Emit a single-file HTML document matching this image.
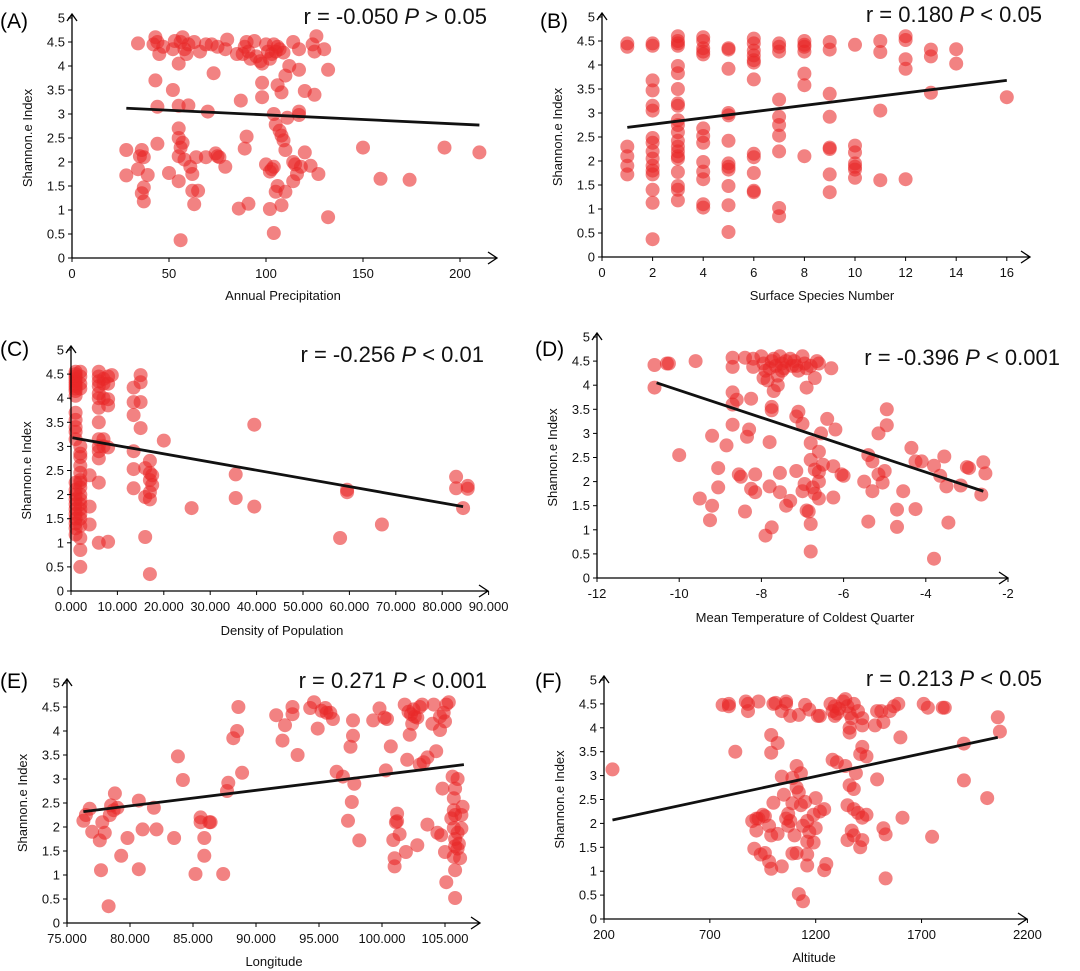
<!DOCTYPE html>
<html><head><meta charset="utf-8">
<style>
html,body{margin:0;padding:0;background:#fff;}
svg{display:block;font-family:"Liberation Sans",Arial,sans-serif;}
</style></head>
<body>
<svg id="fig" width="1080" height="971" viewBox="0 0 1080 971" xmlns="http://www.w3.org/2000/svg"></svg>
<script>
// ---- Data (Shannon index vs predictors) ----
const xA=[34,42,43,44,45,47,52,53,56,57,58,59,60,63,66,69,72,75,79,80,85,88,89,90,91,92,94,95,97,98,100,101,102,103,104,105,106,107,109,114,117,124,125,126,130,55,43,52,73,98,98,87,106,108,110,112,117,120,125,132,44,55,60,70,104,111,117,117,105,107,108,109,110,55,55,57,56,90,89,44,28,36,37,35,55,58,61,64,69,74,75,76,79,100,103,104,102,114,115,120,118,123,116,114,127,28,34,39,50,55,62,36,37,37,62,65,63,86,91,102,108,106,105,110,132,104,56,150,159,174,192,210];
const yA=[4.47,4.45,4.6,4.5,4.25,4.4,4.35,4.52,4.5,4.6,4.35,4.25,4.45,4.5,4.3,4.45,4.45,4.4,4.35,4.55,4.25,4.25,4.4,4.5,4.3,4.15,4.52,4.2,4.1,4.05,4.45,4.3,4.15,4.25,4.45,4.3,4.4,4.35,4.28,4.5,4.35,4.45,4.3,4.62,4.35,4.05,3.7,3.5,3.85,3.65,3.35,3.28,3.6,3.45,3.8,4.0,3.92,3.48,3.4,3.92,3.15,3.17,3.18,3.05,3.0,2.92,3.05,2.98,2.78,2.65,2.55,2.45,2.25,2.7,2.5,2.4,2.3,2.53,2.28,2.38,2.25,2.25,2.1,2.12,2.12,2.05,1.9,2.1,2.1,2.18,2.12,2.1,1.9,1.95,1.85,1.9,1.8,2.0,1.95,2.2,1.9,1.92,1.75,1.6,1.75,1.72,1.85,1.73,1.77,1.6,1.75,1.35,1.47,1.18,1.4,1.4,1.12,1.03,1.13,1.02,1.1,1.5,1.38,1.38,0.85,0.52,0.37,2.3,1.65,1.63,2.3,2.2];
const fitA=[[28,3.12],[210,2.77]];

const xB=[1,1,1,1,1,1, 2,2,2,2,2,2,2,2,2,2,2,2,2,2,2,2, 3,3,3,3,3,3,3,3,3,3,3,3,3,3,3,3,3,3,3,3,3, 4,4,4,4,4,4,4,4,4,4,4,4,4, 5,5,5,5,5,5,5,5,5,5,5,5, 6,6,6,6,6,6,6,6,6,6,6,6, 7,7,7,7,7,7,7,7,7,7, 8,8,8,8,8,8,8, 9,9,9,9,9,9,9,9, 10,10,10,10,10,10,10, 11,11,11,11, 12,12,12,12,12, 13,13,13, 14,14, 16];
const yB=[4.45,4.38,2.3,2.1,1.9,1.72, 4.45,4.4,3.68,3.47,3.15,3.05,2.48,2.38,2.2,2.05,1.9,1.8,1.72,1.4,1.13,0.37, 4.6,4.5,4.45,4.4,3.98,3.83,3.5,3.2,3.15,2.85,2.75,2.6,2.42,2.3,2.2,2.1,2.05,1.77,1.48,1.4,1.18, 4.58,4.5,4.35,4.28,4.22,2.68,2.52,2.38,1.98,1.78,1.62,1.1,1.03, 4.35,4.32,3.92,3.0,2.95,2.42,1.95,1.88,1.82,1.48,1.08,0.52, 4.55,4.45,4.3,4.2,4.1,4.05,3.7,2.15,2.08,1.75,1.38,1.35, 4.45,4.38,4.28,3.28,2.92,2.75,2.53,2.2,1.02,0.85, 4.5,4.42,4.38,4.28,3.82,3.58,2.1, 4.48,4.32,3.4,2.92,2.28,2.25,1.72,1.35, 4.42,2.32,2.18,1.95,1.88,1.82,1.65, 4.5,4.27,3.05,1.6, 4.6,4.52,4.12,3.92,1.62, 4.32,4.18,3.42, 4.33,4.03, 3.33];
const fitB=[[1,2.7],[16,3.68]];

const xC=[1,1,1,1,1,1,1,1,1,1,1,1,1,1,1,1,1,1,1,1,1,1,1,1,1,1, 2,2,2,2,2,2,2,2,2,2,2,2,2,2,2,2,2,2,2,2,2,2, 4,4,4, 6,6,6,6,6,6,6,6,6,6,6,6,6,6, 7,7,7,7,7, 8,8,8,8,8,8, 8.8, 13.5,13.5,13.5,13.5,13.5,13.5, 15,15,15,15, 16,16,16, 17,17,17,17,17,17, 17.5,17.5, 20,26,35.5,35.5,39.5,39.5,58,59.5,59.5,67,83,83,84.5,85.5,85.5];
const yC=[4.55,4.5,4.45,4.4,4.35,4.3,4.25,4.2,4.15,4.05,3.7,3.55,3.4,3.3,3.15,2.25,2.1,2.0,1.9,1.8,1.7,1.6,1.5,1.4,1.3,1.17, 4.55,4.45,4.3,4.2,3.0,2.85,2.78,2.6,2.45,2.3,2.25,2.15,2.0,1.9,1.8,1.7,1.6,1.5,1.35,1.1,0.85,0.5, 2.4,1.75,1.38, 4.55,4.45,4.35,4.25,4.1,4.0,3.8,3.5,3.15,3.0,2.9,2.75,2.25,1.0, 4.4,4.3,4.0,3.15,3.0, 4.45,4.3,3.98,3.85,2.98,1.02, 4.48, 4.22,3.92,3.65,2.9,2.53,2.13, 4.48,4.33,3.92,3.38, 2.55,1.95,1.12, 2.7,2.45,2.3,2.05,1.9,0.35, 2.4,2.2, 3.12,1.72,2.42,1.93,3.45,1.75,1.1,2.1,2.05,1.38,2.37,2.13,1.72,2.18,2.12];
const fitC=[[0.3,3.18],[84.5,1.75]];

const xD=[-10.6,-10.3,-10.25,-9.6,-8.7,-8.7,-8.4,-8.2,-8.2,-8.0,-7.95,-7.9,-7.95,-7.85,-7.8,-7.75,-7.7,-7.65,-7.6,-7.55,-7.5,-7.45,-7.4,-7.3,-7.2,-7.15,-7.1,-7.0,-6.95,-6.9,-6.8,-6.7,-6.65,-6.6,-6.3,-7.6,-7.7,-6.9,-7.5,-7.25,-10.6,-8.7,-8.6,-8.7,-8.25,-7.75,-7.75,-7.1,-7.15,-7.0,-8.7,-8.3,-8.35,-9.2,-8.85,-7.8,-6.4,-6.2,-6.55,-6.8,-6.6,-6.8,-6.5,-6.7,-6.6,-6.25,-6.05,-6.0,-10.0,-9.05,-8.55,-8.5,-8.15,-7.55,-7.15,-9.05,-8.25,-8.15,-7.8,-7.55,-7.0,-6.95,-6.75,-6.6,-6.7,-6.6,-6.25,-7.3,-7.4,-9.5,-9.2,-9.25,-8.4,-6.9,-6.85,-6.8,-7.75,-7.9,-6.8,-4.95,-4.95,-5.15,-4.35,-5.4,-5.3,-4.25,-4.1,-3.8,-3.55,-3.65,-3.5,-3.15,-3.0,-2.95,-2.6,-2.55,-2.65,-5.5,-5.15,-5.05,-5.0,-5.3,-4.55,-4.7,-4.25,-5.4,-4.7,-3.45,-3.8];
const yD=[4.42,4.45,4.45,4.5,4.57,4.38,4.57,4.55,4.38,4.6,4.45,4.3,4.15,4.1,4.35,4.5,4.55,4.4,4.2,4.6,4.45,4.35,4.5,4.55,4.5,4.4,4.3,4.6,4.45,4.35,4.4,4.15,4.5,4.45,4.35,4.0,3.88,3.95,4.3,4.4,3.95,3.85,3.7,3.6,3.72,3.55,3.48,3.45,3.35,3.2,3.18,3.08,2.93,2.95,2.75,2.82,3.3,3.08,3.0,2.8,2.62,2.45,2.35,2.25,2.2,2.32,2.15,2.12,2.55,2.28,2.15,2.1,2.15,2.18,2.22,1.88,1.85,1.78,1.9,1.78,1.8,1.95,1.88,2.0,1.75,1.65,1.67,1.6,1.5,1.65,1.5,1.2,1.38,1.4,1.38,1.12,1.05,0.88,0.55,3.5,3.17,3.0,2.7,2.55,2.42,2.42,2.42,2.33,2.52,2.12,1.9,1.92,2.3,2.28,2.4,2.17,1.73,2.0,2.15,1.98,2.22,1.8,1.8,1.42,1.43,1.17,1.06,1.15,0.4];
const fitD=[[-10.55,4.05],[-2.6,1.8]];

const xE=[76.3,76.5,76.8,77.0,77.6,77.8,78.0,77.7,78.3,78.5,78.4,78.7,78.8,79.0,79.3,79.8,80.7,80.7,81.0,81.9,82.1,83.5,83.8,84.2,85.2,85.6,85.6,85.9,85.9,86.3,86.4,87.4,87.7,87.8,88.2,88.5,88.6,88.9,91.6,92.1,92.3,92.9,92.9,93.3,94.3,94.6,94.9,95.2,95.5,95.6,95.9,96.1,96.4,96.9,97.3,97.5,97.6,97.7,97.7,97.8,98.2,99.3,99.8,100.2,100.3,100.4,100.7,100.9,101.0,101.0,101.1,101.2,101.2,101.4,101.9,101.8,102.0,102.1,102.3,102.2,102.5,102.4,102.8,102.6,102.8,103.0,103.0,103.2,103.3,103.6,103.6,104.0,104.1,104.3,104.4,104.6,104.7,104.6,104.9,104.8,105.0,105.1,105.0,105.1,105.3,105.5,105.6,105.7,105.7,105.8,105.8,105.7,105.8,105.8,105.7,105.8,105.8,106.0,106.0,106.1,106.2,106.3,106.4,106.3,106.0];
const yE=[2.13,2.25,2.38,1.9,1.72,2.1,1.88,1.1,0.35,2.45,2.25,2.35,2.7,2.4,1.4,1.77,2.55,1.12,1.95,2.4,1.95,1.77,3.47,2.98,1.02,2.2,2.1,1.77,1.4,2.1,2.1,1.02,2.75,2.92,3.85,4.0,4.5,3.13,4.33,3.8,4.12,4.5,4.35,3.5,4.48,4.6,4.05,4.42,4.48,4.38,4.38,4.25,3.15,3.05,2.13,3.67,2.52,4.22,3.9,2.9,1.72,4.22,4.47,4.28,3.18,4.25,3.68,1.73,1.35,1.18,2.1,2.28,2.12,1.85,1.48,4.55,3.4,4.4,4.35,3.92,4.45,4.15,4.28,4.3,1.62,4.5,3.3,4.55,3.35,3.45,2.05,4.15,4.55,3.58,1.88,4.02,1.83,4.3,4.38,2.8,4.2,4.55,1.48,0.85,4.6,2.18,3.05,2.6,2.35,2.8,2.25,1.98,1.75,1.6,1.38,1.1,0.52,3.0,1.88,1.65,1.35,2.25,2.42,1.97,1.55];
const fitE=[[76.3,2.32],[106.5,3.3]];

const xF=[240,760,790,790,820,870,880,880,930,1000,1010,1060,1060,1040,1080,1120,1150,1170,1210,1220,1270,1280,1290,1290,1300,1310,1330,1340,1350,1360,1370,1380,1400,1420,1420,1480,1490,1510,1520,1550,1570,1590,1710,1730,1800,1810,1360,1360,2060,2070,990,1020,990,1600,1900,1420,1410,1440,1280,1300,1340,1390,1110,1130,1040,1090,1490,1900,2010,1110,1120,1050,1360,1380,1200,1000,1090,1130,1150,1350,1240,1220,1380,1400,1440,1420,1610,930,950,960,900,920,1070,1060,1080,1190,1160,1140,980,1020,990,920,1070,1100,1170,1200,1160,1190,1370,1380,1420,1350,1410,1520,1530,1750,910,940,960,980,990,1040,1090,1110,1160,1160,1250,1240,1120,1140,1530];
const yF=[3.13,4.48,4.5,4.45,3.5,4.55,4.5,4.35,4.55,4.5,4.52,4.55,4.5,4.35,4.25,4.27,4.48,4.38,4.25,4.25,4.5,4.35,4.25,4.45,4.3,4.4,4.55,4.6,4.45,4.3,4.2,4.5,4.35,4.2,4.05,4.05,4.35,4.35,4.12,4.35,4.45,4.5,4.5,4.42,4.42,4.42,4.0,3.9,4.22,3.92,3.85,3.68,3.48,3.8,3.67,3.6,3.45,3.4,3.33,3.28,3.2,3.05,3.2,3.05,2.98,2.95,2.92,2.9,2.53,2.75,2.65,2.6,2.8,2.72,2.53,2.43,2.42,2.38,2.45,2.38,2.3,2.25,2.3,2.22,2.18,2.12,2.12,2.1,2.18,2.15,2.05,2.1,2.2,2.1,2.05,2.18,2.05,1.95,1.95,1.78,1.75,1.85,1.95,1.75,1.82,1.9,1.62,1.6,1.85,1.75,1.65,1.65,1.5,1.9,1.77,1.72,1.47,1.35,1.38,1.2,1.05,1.1,1.37,1.38,1.35,1.12,1.15,1.02,0.52,0.37,0.85];
const fitF=[[240,2.07],[2060,3.8]];

// ---- Layout configs (positions only) ----
const panels=[
 {id:'a',tag:'(A)',tagX:0,tagY:28,ox:72,oy:258,ys:48,xmin:0,xpx:1.94,ticks:[0,50,100,150,200],dec:0,arrowX:497,stat:['r = -0.050 ','P',' > 0.05'],statX:487,statY:24,xl:'Annual Precipitation',xlX:283,xlY:300,xs:xA,yv:yA,fit:fitA},
 {id:'b',tag:'(B)',tagX:540,tagY:28,ox:602,oy:257,ys:48,xmin:0,xpx:25.3,ticks:[0,2,4,6,8,10,12,14,16],dec:0,arrowX:1030,stat:['r = 0.180 ','P',' < 0.05'],statX:1042,statY:22,xl:'Surface Species Number',xlX:822,xlY:300,xs:xB,yv:yB,fit:fitB},
 {id:'c',tag:'(C)',tagX:0,tagY:356,ox:71,oy:591,ys:48.2,xmin:0,xpx:4.64,ticks:[0,10,20,30,40,50,60,70,80,90],dec:3,arrowX:488,stat:['r = -0.256 ','P',' < 0.01'],statX:484,statY:362,xl:'Density of Population',xlX:282,xlY:635,xs:xC,yv:yC,fit:fitC},
 {id:'d',tag:'(D)',tagX:535,tagY:356,ox:597,oy:578,ys:48.2,xmin:-12,xpx:41.1,ticks:[-12,-10,-8,-6,-4,-2],dec:0,arrowX:1008,stat:['r = -0.396 ','P',' < 0.001'],statX:1060,statY:365,xl:'Mean Temperature  of Coldest  Quarter',xlX:805,xlY:622,xs:xD,yv:yD,fit:fitD},
 {id:'e',tag:'(E)',tagX:0,tagY:688,ox:67,oy:923,ys:48,xmin:75,xpx:12.6,ticks:[75,80,85,90,95,100,105],dec:3,arrowX:480,stat:['r = 0.271 ','P',' < 0.001'],statX:487,statY:688,xl:'Longitude',xlX:274,xlY:966,xs:xE,yv:yE,fit:fitE},
 {id:'f',tag:'(F)',tagX:535,tagY:688,ox:604,oy:919,ys:47.8,xmin:200,xpx:0.2117,ticks:[200,700,1200,1700,2200],dec:0,arrowX:1027,stat:['r = 0.213 ','P',' < 0.05'],statX:1042,statY:686,xl:'Altitude',xlX:814,xlY:962,xs:xF,yv:yF,fit:fitF}
];
const NS='http://www.w3.org/2000/svg';
const svg=document.getElementById('fig');
function mk(tag,attrs,parent,text){const e=document.createElementNS(NS,tag);for(const k in attrs)e.setAttribute(k,attrs[k]);if(text!==undefined)e.textContent=text;parent.appendChild(e);return e;}
const yTicks=[0,0.5,1,1.5,2,2.5,3,3.5,4,4.5,5];
panels.forEach(p=>{
  const X=v=>p.ox+(v-p.xmin)*p.xpx;
  const Y=v=>p.oy-v*p.ys;
  const g=mk('g',{},svg);
  
  
  const tg=mk('text',{x:p.tagX,y:p.tagY,'font-size':21,fill:'#000'},g,p.tag);
  
  
  // points
  const pg=mk('g',{},g);
  
  
  p.xs.forEach((xv,i)=>{
    const c=mk('circle',{cx:X(xv).toFixed(1),cy:Y(p.yv[i]).toFixed(1),r:7,fill:'rgb(232,40,40)','fill-opacity':0.58},pg);
    
    
  });
  // axes
  const ya=mk('path',{d:`M${p.ox},${p.oy}V${Y(5)-4}M${p.ox-5},${Y(5)+3}L${p.ox},${Y(5)-4}L${p.ox+5},${Y(5)+3}`,stroke:'#000','stroke-width':1.3,fill:'none'},g);
  
  
  const xa=mk('path',{d:`M${p.ox},${p.oy}H${p.arrowX}M${p.arrowX-9},${p.oy-6}L${p.arrowX},${p.oy}L${p.arrowX-9},${p.oy+6}`,stroke:'#000','stroke-width':1.3,fill:'none'},g);
  
  
  yTicks.forEach(t=>{
    mk('line',{x1:p.ox-4,x2:p.ox,y1:Y(t),y2:Y(t),stroke:'#000','stroke-width':1},g);
    const tl=mk('text',{x:p.ox-7,y:Y(t)+4.5,'font-size':13,'text-anchor':'end',fill:'#111'},g,String(t));
    
    
  });
  p.ticks.forEach(t=>{
    mk('line',{x1:X(t),x2:X(t),y1:p.oy,y2:p.oy+4,stroke:'#000','stroke-width':1},g);
    const tl=mk('text',{x:X(t),y:p.oy+20,'font-size':13,'text-anchor':'middle',fill:'#111'},g,t.toFixed(p.dec));
    
    
  });
  const fl=mk('line',{x1:X(p.fit[0][0]),y1:Y(p.fit[0][1]),x2:X(p.fit[1][0]),y2:Y(p.fit[1][1]),stroke:'#111','stroke-width':2.8},g);
  
  
  const xt=mk('text',{x:p.xlX,y:p.xlY,'font-size':13,'text-anchor':'middle',fill:'#111','xml:space':'preserve'},g,p.xl);
  
  
  const cy=(p.oy+Y(5))/2;
  const yt=mk('text',{x:p.ox-40,y:cy,'font-size':13,'text-anchor':'middle',fill:'#111',transform:`rotate(-90 ${p.ox-40} ${cy})`},g,'Shannon.e  Index');
  
  
  const st=mk('text',{x:p.statX,y:p.statY,'font-size':22,'text-anchor':'end',fill:'#111'},g);
  
  
  mk('tspan',{},st,p.stat[0]);
  mk('tspan',{'font-style':'italic'},st,p.stat[1]);
  mk('tspan',{},st,p.stat[2]);
});
</script>
</body></html>
